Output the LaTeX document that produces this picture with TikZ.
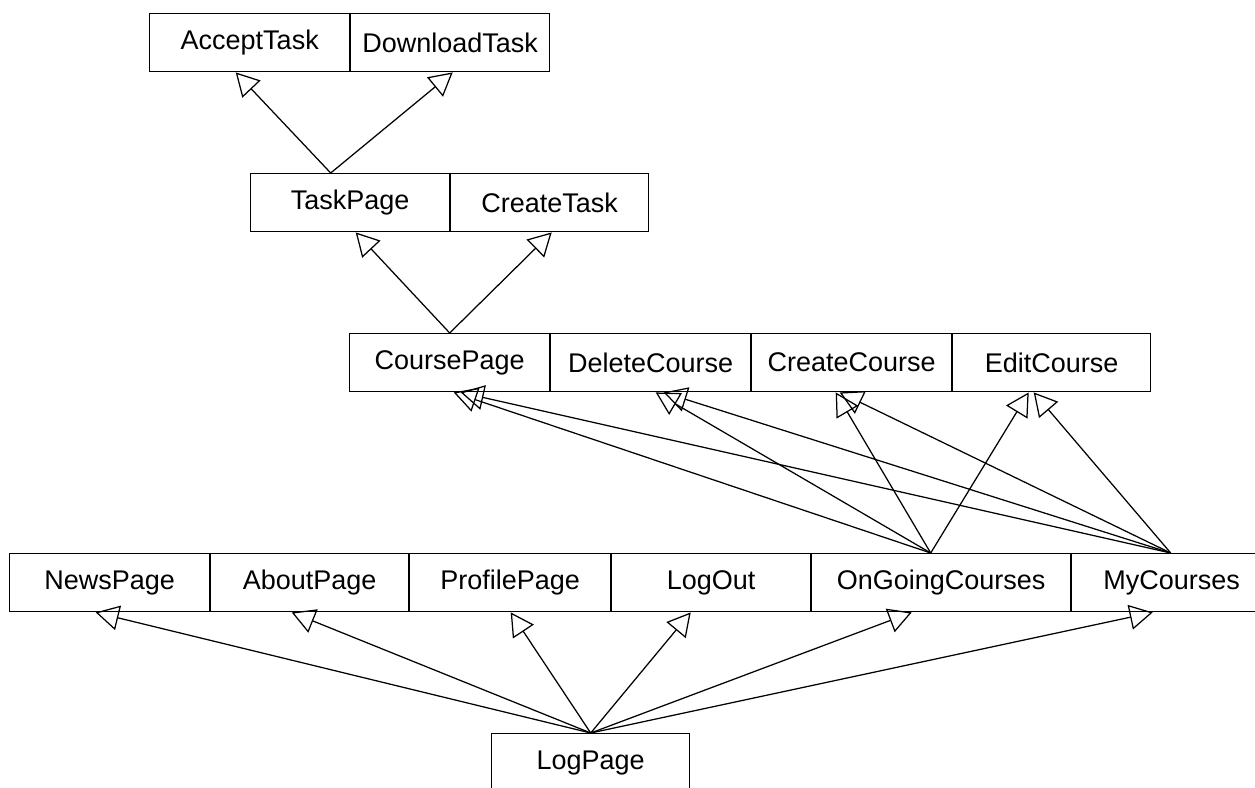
\documentclass[tikz,border=0pt]{standalone}
\usepackage{fontspec}
\setmainfont{Liberation Sans}
\usetikzlibrary{arrows.meta}
\tikzset{
  box/.style={draw=black, line width=1.4pt, rectangle, anchor=north west,
    minimum height=58pt, inner sep=0pt, font=\fontsize{27}{32}\selectfont},
  gen/.style={draw=black, line width=1.25pt,
    -{Triangle[open,length=23pt,width=25pt,line width=1.25pt]}}
}
\begin{document}
\begin{tikzpicture}[x=1pt,y=-1pt]
\useasboundingbox (0,0) rectangle (1255,787);
\fill[white] (0,0) rectangle (1255,787);
\clip (0,0) rectangle (1255,787);
% row 1
\node[box, minimum width=200pt] (at) at (149,13) {AcceptTask};
\node[box, minimum width=199pt] (dt) at (350,13) {DownloadTask};
% row 2
\node[box, minimum width=199pt] (tp) at (250,173) {TaskPage};
\node[box, minimum width=198pt] (ct) at (450,173) {CreateTask};
% row 3
\node[box, minimum width=200pt] (cp) at (349,333) {CoursePage};
\node[box, minimum width=200pt] (dc) at (550,333) {DeleteCourse};
\node[box, minimum width=200pt] (cc) at (751,333) {CreateCourse};
\node[box, minimum width=198pt] (ec) at (952,333) {EditCourse};
% row 4
\node[box, minimum width=200pt] (np) at (9,553) {NewsPage};
\node[box, minimum width=198pt] (ap) at (210,553) {AboutPage};
\node[box, minimum width=201pt] (pp) at (409,553) {ProfilePage};
\node[box, minimum width=199pt] (lo) at (611,553) {LogOut};
\node[box, minimum width=259pt] (og) at (811,553) {OnGoingCourses};
\node[box, minimum width=200pt] (mc) at (1071,553) {MyCourses};
% bottom
\node[box, minimum width=198pt] (lp) at (491,733) {LogPage};
% connectors row 2 -> row 1
\draw[gen] ([xshift=-19.5pt]tp.north) -- ([xshift=-14pt]at.south);
\draw[gen] ([xshift=-19.5pt]tp.north) -- ([xshift=2.5pt]dt.south);
% row 3 -> row 2
\draw[gen] (cp.north) -- ([xshift=5.5pt]tp.south);
\draw[gen] (cp.north) -- ([xshift=2pt]ct.south);
% row 4 -> row 3
\draw[gen] ([xshift=-10.5pt]og.north) -- ([xshift=4pt]cp.south);
\draw[gen] ([xshift=-10.5pt]og.north) -- ([xshift=5pt]dc.south);
\draw[gen] ([xshift=-10.5pt]og.north) -- ([xshift=-16pt]cc.south);
\draw[gen] ([xshift=-10.5pt]og.north) -- ([xshift=-23pt]ec.south);
\draw[gen] ([xshift=-1pt]mc.north) -- ([xshift=11pt]cp.south);
\draw[gen] ([xshift=-1pt]mc.north) -- ([xshift=13pt]dc.south);
\draw[gen] ([xshift=-1pt]mc.north) -- ([xshift=-12pt]cc.south);
\draw[gen] ([xshift=-1pt]mc.north) -- ([xshift=-18pt]ec.south);
% LogPage -> row 4
\draw[gen] (lp.north) -- ([xshift=-14pt]np.south);
\draw[gen] (lp.north) -- ([xshift=-18pt]ap.south);
\draw[gen] (lp.north) -- ([xshift=0.5pt]pp.south);
\draw[gen] (lp.north) -- ([xshift=-20.5pt]lo.south);
\draw[gen] (lp.north) -- ([xshift=-29.5pt]og.south);
\draw[gen] (lp.north) -- ([xshift=-19pt]mc.south);
\end{tikzpicture}
\end{document}
